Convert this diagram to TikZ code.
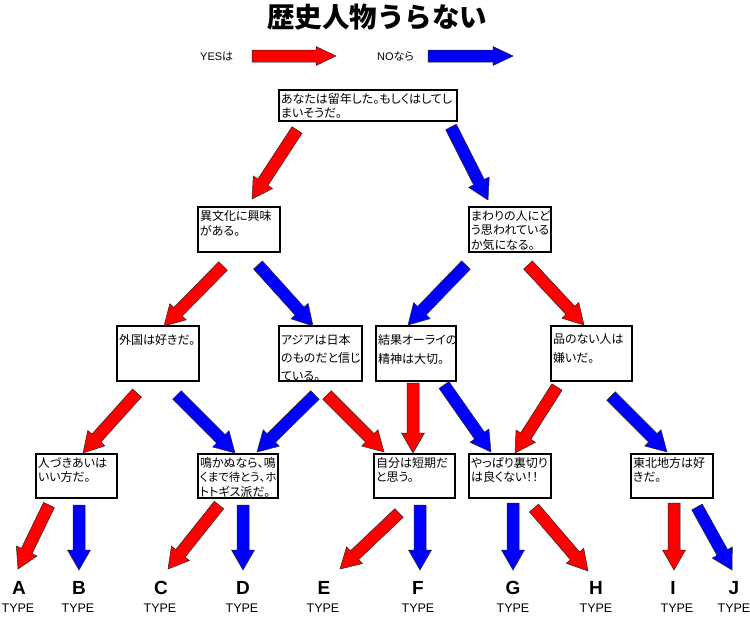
\documentclass[tikz,border=0pt]{standalone}
\usepackage{fontspec}
\setmainfont{Liberation Sans}
\newfontfamily\cjk[RawFeature=+palt]{Noto Sans CJK JP}
\newfontfamily\cjktitle{Noto Sans CJK JP}
\usetikzlibrary{calc}
\tikzset{
  qbox/.style={draw=black, line width=1.2pt, fill=white, inner sep=1pt, outer sep=0pt, anchor=north west},
  yesarrow/.style={fill=red, draw=black!85, line width=0.5pt},
  noarrow/.style={fill=blue, draw=black!85, line width=0.5pt},
  letter/.style={font=\bfseries\fontsize{19}{19}\selectfont, inner sep=0pt},
  typel/.style={font=\fontsize{12.5}{12.5}\selectfont, inner sep=0pt},
  legend/.style={font=\fontsize{11}{11}\selectfont, inner sep=0pt, anchor=west},
}
% block arrow: style, tail, tip, head half width
\newcommand\blkarrow[4]{%
  \coordinate (hb) at ($(#3)!20pt!(#2)$);
  \filldraw[#1] ($(#2)!6pt!90:(#3)$) -- ($(hb)!6pt!90:(#3)$) -- ($(hb)!#4pt!90:(#3)$) -- (#3)
     -- ($(hb)!#4pt!-90:(#3)$) -- ($(hb)!6pt!-90:(#3)$) -- ($(#2)!6pt!-90:(#3)$) -- cycle;}
% question box: name, x, y, w, h, topskip, baselineskip, text
\newcommand\qbox[8]{%
  \node[qbox] (#1) at (#2,#3) {\parbox[t][\dimexpr#5pt-2pt\relax][t]{\dimexpr#4pt-2pt\relax}{\cjk\fontsize{12}{#7}\selectfont\raggedright\vspace*{#6pt}\hspace*{1pt}#8}};}
\begin{document}
\begin{tikzpicture}[x=1pt,y=-1pt]
\useasboundingbox (0,0) rectangle (750,619);
\fill[white] (0,0) rectangle (750,619);

% title and legend
\node[font=\cjktitle\bfseries\fontsize{27.5}{27.5}\selectfont] (title) at (377,17) {歴史人物うらない};
\node[legend] (yes) at (200,56) {YES{\cjk は}};
\node[legend] (no) at (377,56) {NO{\cjk なら}};
\coordinate (ly1) at (252,56); \coordinate (ly2) at (336,56);
\coordinate (ln1) at (428,56); \coordinate (ln2) at (513,56);
\blkarrow{yesarrow}{ly1}{ly2}{9.5}
\blkarrow{noarrow}{ln1}{ln2}{9.5}

% boxes
\qbox{q0}{279}{90}{178}{31}{2.2}{13.7}{あなたは留年した。もしくはしてし\\\hspace*{1pt}まいそうだ。}
\qbox{q1}{198}{207}{82}{45}{2.3}{15.5}{異文化に興味\\\hspace*{1pt}がある。}
\qbox{q2}{469}{207}{82}{45}{2.3}{14.5}{まわりの人にど\\\hspace*{1pt}う思われている\\\hspace*{1pt}か気になる。}
\qbox{q3}{117}{326}{82}{55}{7}{18}{外国は好きだ。}
\qbox{q4}{279}{326}{83}{55}{7}{18}{アジアは日本\\\hspace*{1pt}のものだと信じ\\\hspace*{1pt}ている。}
\qbox{q5}{376}{326}{80}{55}{7}{19}{結果オーライの\\\hspace*{1pt}精神は大切。}
\qbox{q6}{551}{326}{81}{55}{7}{19}{品のない人は\\\hspace*{1pt}嫌いだ。}
\qbox{q7}{36}{454}{81}{44}{2.6}{14.2}{人づきあいは\\\hspace*{1pt}いい方だ。}
\qbox{q8}{198}{454}{80}{44}{2.6}{14.2}{鳴かぬなら、鳴\\\hspace*{1pt}{\fontsize{11.4}{14.2}\selectfont くまで待とう、ホ}\\\hspace*{1pt}トトギス派だ。}
\qbox{q9}{374}{454}{81}{44}{2.6}{14.2}{自分は短期だ\\\hspace*{1pt}と思う。}
\qbox{q10}{469}{454}{82}{44}{2.6}{14.2}{やっぱり裏切り\\\hspace*{1pt}は良くない！！}
\qbox{q11}{631}{454}{82}{44}{2.6}{14.2}{東北地方は好\\\hspace*{1pt}きだ。}

% result labels
\foreach \n/\x/\tx in {A/19/18, B/79/78, C/161/160, D/243/242, E/324/323, F/418/418, G/513/513, H/596/596, I/673/677, J/734/734}{
  \node[letter] (L\n) at (\x,588) {\n};
  \node[typel] (T\n) at (\tx,608) {TYPE};
}

% arrow end points
\coordinate (a1t) at (297,130); \coordinate (a1h) at (252,199);
\coordinate (a2t) at (451,127); \coordinate (a2h) at (488,200);
\coordinate (a3t) at (223,266); \coordinate (a3h) at (164,326);
\coordinate (a4t) at (258,265); \coordinate (a4h) at (313,326);
\coordinate (a5t) at (466,265); \coordinate (a5h) at (408,325);
\coordinate (a6t) at (528,265); \coordinate (a6h) at (584,325);
\coordinate (a7t) at (137,393); \coordinate (a7h) at (83,453);
\coordinate (a8t) at (177,395); \coordinate (a8h) at (235,453);
\coordinate (a9t) at (315,395); \coordinate (a9h) at (257,452);
\coordinate (a10t) at (327,395); \coordinate (a10h) at (384,452);
\coordinate (a11t) at (413,383); \coordinate (a11h) at (413,453);
\coordinate (a12t) at (444,385); \coordinate (a12h) at (491,452);
\coordinate (a13t) at (557,387); \coordinate (a13h) at (515,453);
\coordinate (a14t) at (611,396); \coordinate (a14h) at (667,452);
\coordinate (a15t) at (49,505); \coordinate (a15h) at (18,569);
\coordinate (a16t) at (79,505); \coordinate (a16h) at (79,570);
\coordinate (a17t) at (219,505); \coordinate (a17h) at (168,569);
\coordinate (a18t) at (243,505); \coordinate (a18h) at (243,570);
\coordinate (a19t) at (399,513); \coordinate (a19h) at (340,569);
\coordinate (a20t) at (420,505); \coordinate (a20h) at (420,570);
\coordinate (a21t) at (513,503); \coordinate (a21h) at (513,570);
\coordinate (a22t) at (534,508); \coordinate (a22h) at (588,571);
\coordinate (a23t) at (674,503); \coordinate (a23h) at (674,570);
\coordinate (a24t) at (697,507); \coordinate (a24h) at (732,570);

\blkarrow{yesarrow}{a1t}{a1h}{11.5}
\blkarrow{noarrow}{a2t}{a2h}{11.5}
\blkarrow{yesarrow}{a3t}{a3h}{11.5}
\blkarrow{noarrow}{a4t}{a4h}{11.5}
\blkarrow{noarrow}{a5t}{a5h}{11.5}
\blkarrow{yesarrow}{a6t}{a6h}{11.5}
\blkarrow{yesarrow}{a7t}{a7h}{11.5}
\blkarrow{noarrow}{a8t}{a8h}{11.5}
\blkarrow{noarrow}{a9t}{a9h}{11.5}
\blkarrow{yesarrow}{a10t}{a10h}{11.5}
\blkarrow{yesarrow}{a11t}{a11h}{11.5}
\blkarrow{noarrow}{a12t}{a12h}{11.5}
\blkarrow{yesarrow}{a13t}{a13h}{11.5}
\blkarrow{noarrow}{a14t}{a14h}{11.5}
\blkarrow{yesarrow}{a15t}{a15h}{11.5}
\blkarrow{noarrow}{a16t}{a16h}{11.5}
\blkarrow{yesarrow}{a17t}{a17h}{11.5}
\blkarrow{noarrow}{a18t}{a18h}{11.5}
\blkarrow{yesarrow}{a19t}{a19h}{11.5}
\blkarrow{noarrow}{a20t}{a20h}{11.5}
\blkarrow{noarrow}{a21t}{a21h}{11.5}
\blkarrow{yesarrow}{a22t}{a22h}{11.5}
\blkarrow{yesarrow}{a23t}{a23h}{11.5}
\blkarrow{noarrow}{a24t}{a24h}{11.5}
\end{tikzpicture}
\end{document}
